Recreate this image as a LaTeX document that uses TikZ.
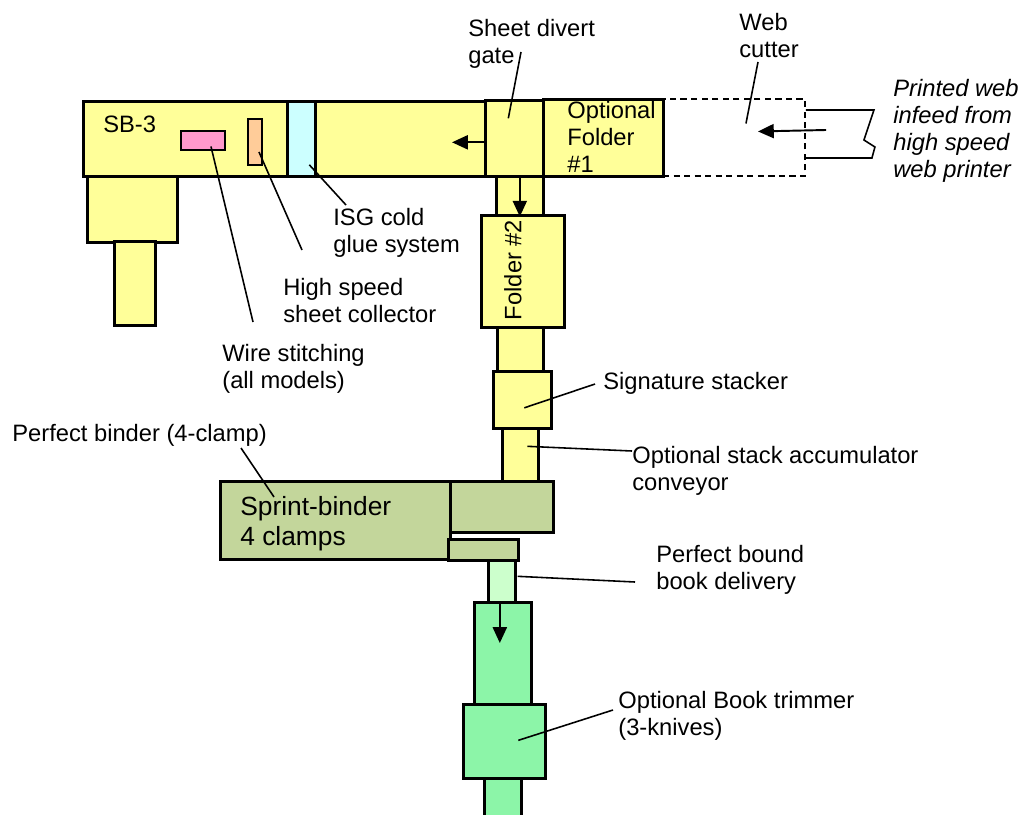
\documentclass[tikz,border=0pt]{standalone}
\usepackage{fontspec}
\setmainfont{Liberation Sans}
\usetikzlibrary{arrows.meta,positioning}
\definecolor{pale}{HTML}{FFFF99}
\definecolor{iceblue}{HTML}{CCFFFF}
\definecolor{rose}{HTML}{FF99CC}
\definecolor{peach}{HTML}{FFCC99}
\definecolor{sage}{HTML}{C3D69B}
\definecolor{mint}{HTML}{CCFFCC}
\definecolor{jade}{HTML}{8CF5A8}

\begin{document}
\begin{tikzpicture}[x=0.02cm,y=-0.02cm,
    unit/.style 2 args={draw,line width=1.5pt,anchor=north west,inner sep=0pt,
                        minimum width=#1*0.02cm,minimum height=#2*0.02cm},
    part/.style 2 args={unit={#1}{#2},line width=1.1pt},
    lbl/.style={anchor=north west,inner sep=0pt,align=left,
                font=\fontsize{13.5}{15.4}\selectfont},
    lead/.style={line width=0.9pt},
    flow/.style={-{Triangle[length=9pt,width=8pt]},line width=1.1pt}]
  \useasboundingbox (0,0) rectangle (1026,814);
  \clip (0,0) rectangle (1026,814);
  % saddle stitcher line
  \node[unit={90}{66},fill=pale]   (sbleg)  at (86,175) {};
  \node[unit={41}{84},fill=pale]   (sbfoot) at (113,240) {};
  \node[unit={402}{75},fill=pale]  (sb3)    at (82,100) {};
  \node[unit={28}{75},fill=iceblue] (isg)   at (286,100) {};
  \node[part={44}{19},fill=rose]   (wire)   at (180,130) {};
  \node[part={14}{46},fill=peach]  (coll)   at (247,118) {};
  \node[unit={58}{76},fill=pale]   (gate)   at (484,99) {};
  \node[unit={120}{77},fill=pale]  (fold1)  at (542,98) {};
  \node[unit={142}{77},line width=1.1pt,dash pattern=on 3.5pt off 2.5pt] (cutter) at (662,98) {};
  % folder / stacker column
  \node[unit={47}{39},fill=pale]   (conv1)  at (495,175) {};
  \node[unit={83}{112},fill=pale]  (fold2)  at (480,214) {};
  \node[unit={46}{44},fill=pale]   (conv2)  at (496,326) {};
  \node[unit={58}{57},fill=pale]   (stack)  at (492,370) {};
  \node[unit={36}{54},fill=pale]   (accum)  at (501,427) {};
  % binder and trimmer
  \node[unit={230}{78},fill=sage]  (binder) at (219,480) {};
  \node[unit={103}{51},fill=sage]  (bininf) at (449,480) {};
  \node[unit={70}{21},fill=sage]   (binout) at (447,538) {};
  \node[unit={27}{42},fill=mint]   (deliv)  at (487,559) {};
  \node[unit={57}{102},fill=jade]  (trfeed) at (473,601) {};
  \node[unit={82}{74},fill=jade]   (trim)   at (462,703) {};
  \node[unit={37}{60},fill=jade]   (trout)  at (483,777) {};

  % texts in the boxes
  \node[lbl] (tsb3) at (103,116) {SB-3};
  \node[lbl] (tfold1) at (567,101) {Optional\\Folder\\\#1};
  \node[inner sep=0pt,rotate=90,font=\fontsize{13.5}{15.4}\selectfont] (tfold2) at (513,270) {Folder \#2};
  \node[lbl,font=\fontsize{15}{17.2}\selectfont] (tbinder) at (240,496) {Sprint-binder\\4 clamps};

  % callouts
  \node[lbl] (lgate)  at (468,19)  {Sheet divert\\gate};
  \node[lbl] (lcut)   at (739,13)  {Web\\cutter};
  \node[lbl,font=\fontsize{13.5}{15.4}\selectfont\itshape] (lfeed) at (893,79)
    {Printed web\\infeed from\\high speed\\web printer};
  \node[lbl] (lisg)   at (333,208) {ISG cold\\glue system};
  \node[lbl] (lcoll)  at (283,278) {High speed\\sheet collector};
  \node[lbl] (lwire)  at (222,344) {Wire stitching\\(all models)};
  \node[lbl] (lbind)  at (12,424)  {Perfect binder (4-clamp)};
  \node[lbl] (lstack) at (603,372) {Signature stacker};
  \node[lbl] (laccum) at (632,446) {Optional stack accumulator\\conveyor};
  \node[lbl] (ldeliv) at (656,545) {Perfect bound\\book delivery};
  \node[lbl] (ltrim)  at (618,691) {Optional Book trimmer\\(3-knives)};

  \coordinate (wireEnd)  at (253,322);
  \coordinate (collEnd)  at (302,250);
  \coordinate (isgEnd)   at (346,205);
  \coordinate (gateEnd)  at (521,52);
  \coordinate (cutEnd)   at (758,62);
  \coordinate (stackEnd) at (595,384);
  \coordinate (accumEnd) at (632,451);
  \coordinate (bindEnd)  at (241,448);
  \coordinate (delivEnd) at (635,582);
  \coordinate (trimEnd)  at (613,710);
  \coordinate (feedMid)  at (826,130);

  \draw[lead] ([shift={(8,6)}]wire.center) -- (wireEnd);
  \draw[lead] ([shift={(4,10)}]coll.center) -- (collEnd);
  \draw[lead] ([shift={(8,26)}]isg.center) -- (isgEnd);
  \draw[lead] ([shift={(-6,-20)}]gate.center) -- (gateEnd);
  \draw[lead] ([shift={(12,-14)}]cutter.center) -- (cutEnd);
  \draw[lead] ([shift={(2,8)}]stack.center) -- (stackEnd);
  \draw[lead] ([shift={(7,-9)}]accum.center) -- (accumEnd);
  \draw[lead] ([shift={(55,17)}]binder.north west) -- (bindEnd);
  \draw[lead] ([shift={(1,-5)}]deliv.east) -- (delivEnd);
  \draw[lead] ([shift={(14,-1)}]trim.center) -- (trimEnd);

  % printed web coming in
  \draw[lead] ([shift={(0,12)}]cutter.north east) -- ++(68,0) -- ++(-10,30)
    -- ++(11,7) -- ++(-3,11) -- ([shift={(0,60)}]cutter.north east);
  \draw[flow] (feedMid) -- ([shift={(24,-6)}]cutter.center);
  \draw[flow] ([shift={(0,4)}]gate.west) -- ++(-32,0);
  \draw[flow] (conv1.north) -- (conv1.south);
  \draw[flow] ([shift={(-3,2)}]trfeed.north) -- ++(0,40);
\end{tikzpicture}
\end{document}
